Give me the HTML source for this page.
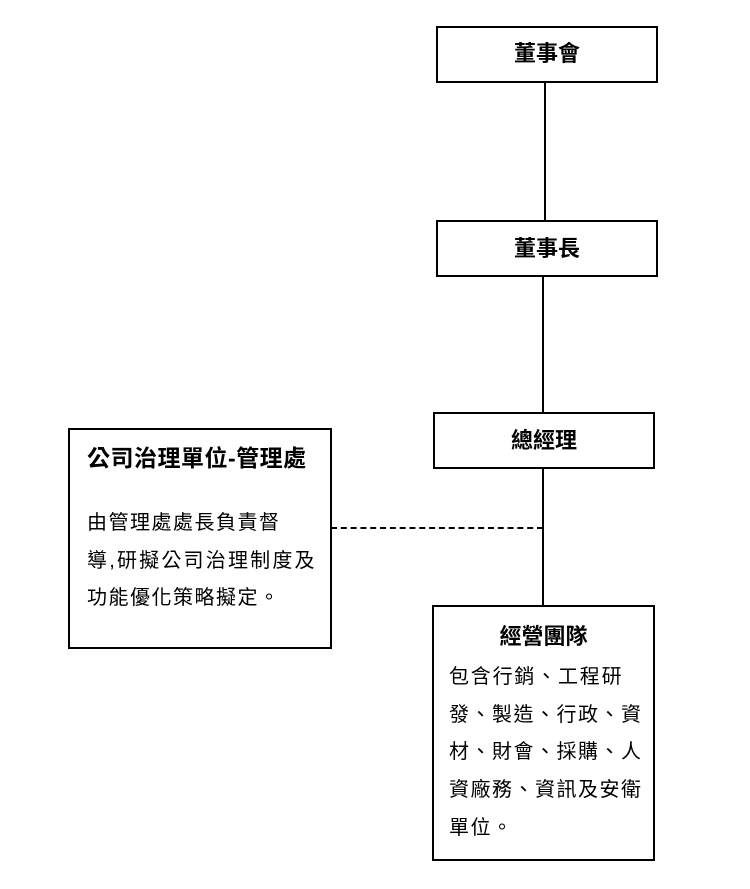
<!DOCTYPE html>
<html><head><meta charset="utf-8"><style>
body{margin:0;width:750px;height:889px;background:#fff;position:relative;font-family:"Liberation Sans","Noto Sans CJK TC",sans-serif;color:#000;overflow:hidden}
.b{position:absolute;border:2px solid #000;box-sizing:border-box;background:#fff}
.t{position:absolute;white-space:nowrap;font-size:20px;line-height:20px}
.bold{font-weight:bold;font-size:22px;line-height:22px}
.l{position:absolute;background:#000}
</style></head><body>
<div class="l" style="left:544px;top:82px;width:2px;height:140px"></div>
<div class="l" style="left:542px;top:276px;width:2px;height:138px"></div>
<div class="l" style="left:542px;top:468px;width:2px;height:140px"></div>
<div style="position:absolute;left:331px;top:527px;width:212px;border-top:2px dashed #000"></div>

<div class="b" style="left:436px;top:26px;width:222px;height:57px"></div>
<div class="t bold" style="left:436px;width:222px;text-align:center;top:43px">董事會</div>
<div class="b" style="left:436px;top:220px;width:222px;height:57px"></div>
<div class="t bold" style="left:436px;width:222px;text-align:center;top:238px">董事長</div>
<div class="b" style="left:433px;top:412px;width:222px;height:57px"></div>
<div class="t bold" style="left:433px;width:222px;text-align:center;top:430px">總經理</div>

<div class="b" style="left:68px;top:428px;width:264px;height:221px"></div>
<div class="t bold" style="left:87px;top:447px;font-size:23px;line-height:23px;letter-spacing:0.5px">公司治理單位-管理處</div>
<div class="t" style="left:87px;top:513px;letter-spacing:1.5px">由管理處處長負責督</div>
<div class="t" style="left:87px;top:551px;letter-spacing:2.2px">導,研擬公司治理制度及</div>
<div class="t" style="left:87px;top:588px;letter-spacing:1.5px">功能優化策略擬定。</div>

<div class="b" style="left:432px;top:605px;width:223px;height:256px"></div>
<div class="t bold" style="left:432px;width:223px;text-align:center;top:626px">經營團隊</div>
<div class="t" style="left:449px;top:667px;letter-spacing:1.8px">包含行銷、工程研</div>
<div class="t" style="left:449px;top:705px;letter-spacing:1.5px">發、製造、行政、資</div>
<div class="t" style="left:449px;top:742px;letter-spacing:1.5px">材、財會、採購、人</div>
<div class="t" style="left:449px;top:780px;letter-spacing:1.5px">資廠務、資訊及安衛</div>
<div class="t" style="left:449px;top:818px;letter-spacing:1.5px">單位。</div>
</body></html>
